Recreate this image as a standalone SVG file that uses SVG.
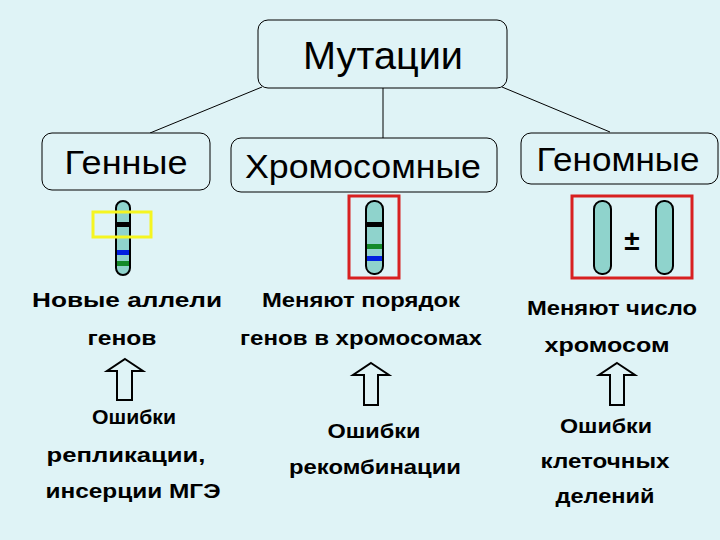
<svg xmlns="http://www.w3.org/2000/svg" width="720" height="540" viewBox="0 0 720 540">
<style>
.box{fill:#dff3f6;stroke:#000;stroke-width:1}
.t{font-family:"Liberation Sans",Arial,sans-serif;fill:#000;text-anchor:middle}
.h{font-size:38px}
.s{font-size:33px}
.b{font-size:20px;font-weight:bold}
.chr{fill:#8fd3cc;stroke:#000;stroke-width:2}
.arr{fill:none;stroke:#000;stroke-width:2}
</style>
<rect width="720" height="540" fill="#dff3f6"/>
<g id="connectors" stroke="#000" stroke-width="1">
<line x1="262" y1="87" x2="150" y2="133"/>
<line x1="383" y1="88" x2="383" y2="138"/>
<line x1="502" y1="87" x2="610" y2="132"/>
</g>
<g id="mut"><rect class="box" x="258" y="20" width="249" height="68" rx="10"/><text class="t h" x="383" y="69" textLength="160" lengthAdjust="spacingAndGlyphs">Мутации</text></g>
<g id="gen"><rect class="box" x="42" y="133" width="168" height="57" rx="10"/><text class="t s" x="126" y="174" textLength="123" lengthAdjust="spacingAndGlyphs">Генные</text></g>
<g id="chrom"><rect class="box" x="231" y="138" width="266" height="54" rx="10"/><text class="t s" x="363" y="178" textLength="236" lengthAdjust="spacingAndGlyphs">Хромосомные</text></g>
<g id="genom"><rect class="box" x="521" y="133" width="197" height="51" rx="10"/><text class="t s" x="618" y="171" textLength="163" lengthAdjust="spacingAndGlyphs">Геномные</text></g>
<g id="chr1">
<rect class="chr" x="116" y="201" width="14" height="74" rx="7"/>
<rect x="117" y="222" width="12" height="5" fill="#000"/>
<rect x="117" y="250" width="12" height="5" fill="#0020e0"/>
<rect x="117" y="261" width="12" height="5" fill="#138a2a"/>
<rect x="93" y="212" width="58" height="25" fill="none" stroke="#f5f520" stroke-width="3"/>
</g>
<g id="chr2">
<rect x="349" y="196" width="50" height="82" fill="none" stroke="#d82020" stroke-width="3"/>
<rect class="chr" x="366" y="201" width="17" height="73" rx="8"/>
<rect x="367" y="222" width="15" height="5" fill="#000"/>
<rect x="367" y="244" width="15" height="5" fill="#138a2a"/>
<rect x="367" y="256" width="15" height="5" fill="#0020e0"/>
</g>
<g id="chr3">
<rect x="572" y="196" width="120" height="82" fill="none" stroke="#d82020" stroke-width="3"/>
<rect class="chr" x="594" y="201" width="17" height="73" rx="8"/>
<rect class="chr" x="656" y="201" width="17" height="73" rx="8"/>
<text class="t" x="632" y="250" font-size="28" font-weight="bold">±</text>
</g>
<g id="txt1"><text class="t b" x="127" y="307" textLength="190" lengthAdjust="spacingAndGlyphs">Новые аллели</text><text class="t b" x="122" y="345" textLength="69" lengthAdjust="spacingAndGlyphs">генов</text></g>
<g id="txt2"><text class="t b" x="361" y="307" textLength="198" lengthAdjust="spacingAndGlyphs">Меняют порядок</text><text class="t b" x="361" y="345" textLength="242" lengthAdjust="spacingAndGlyphs">генов в хромосомах</text></g>
<g id="txt3"><text class="t b" x="612" y="315" textLength="170" lengthAdjust="spacingAndGlyphs">Меняют число</text><text class="t b" x="607" y="352" textLength="125" lengthAdjust="spacingAndGlyphs">хромосом</text></g>
<g id="arrows">
<path class="arr" d="M125,359 L143,371 L132,371 L132,400 L117,400 L117,371 L107,371 Z"/>
<path class="arr" d="M371,363 L389,375 L378,375 L378,405 L364,405 L364,375 L353,375 Z"/>
<path class="arr" d="M617,363 L635,375 L624,375 L624,405 L610,405 L610,375 L599,375 Z"/>
</g>
<g id="txt4"><text class="t b" x="134" y="424" textLength="84" lengthAdjust="spacingAndGlyphs">Ошибки</text><text class="t b" x="126" y="462" textLength="159" lengthAdjust="spacingAndGlyphs">репликации,</text><text class="t b" x="133" y="498" textLength="175" lengthAdjust="spacingAndGlyphs">инсерции МГЭ</text></g>
<g id="txt5"><text class="t b" x="374" y="438" textLength="93" lengthAdjust="spacingAndGlyphs">Ошибки</text><text class="t b" x="375" y="474" textLength="172" lengthAdjust="spacingAndGlyphs">рекомбинации</text></g>
<g id="txt6"><text class="t b" x="606" y="433" textLength="92" lengthAdjust="spacingAndGlyphs">Ошибки</text><text class="t b" x="605" y="468" textLength="129" lengthAdjust="spacingAndGlyphs">клеточных</text><text class="t b" x="605" y="503" textLength="99" lengthAdjust="spacingAndGlyphs">делений</text></g>
</svg>
